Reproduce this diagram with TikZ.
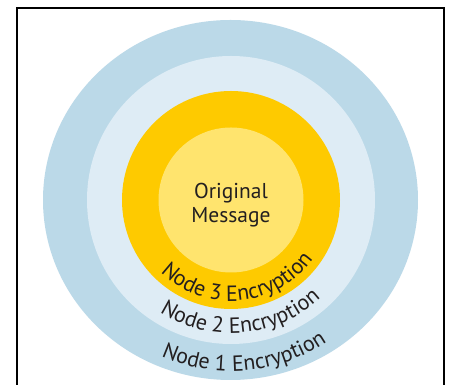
\documentclass[tikz,border=0pt]{standalone}
\usepackage{fontspec}
\setmainfont{PT Sans}
\usetikzlibrary{decorations.text}
\definecolor{ringouter}{RGB}{187,217,232}
\definecolor{ringmid}{RGB}{222,236,245}
\definecolor{ringorange}{RGB}{254,202,0}
\definecolor{coreyellow}{RGB}{255,228,110}
\definecolor{ink}{RGB}{35,31,32}
\newcommand{\corefont}{\fontsize{21.5}{24}\selectfont}
\newcommand{\ringfont}{\fontsize{22}{24}\selectfont\color{ink}}
\tikzset{
  coretext/.style={anchor=base, inner sep=0pt, text=ink, font=\corefont},
  ringlabel/.style={decorate, decoration={text along path, text align=center,
      text={|\ringfont|#1}}}
}
\begin{document}
\begin{tikzpicture}[x=1pt,y=1pt]
  \useasboundingbox (0,0) rectangle (451,385);
  \fill[white] (0,0) rectangle (451,385);
  % open frame
  \draw[line width=1.2pt] (17,0) -- (17,377) -- (444,377) -- (444,0);
  \coordinate (c) at (231,185);
  % encryption layers
  \fill[ringouter] (230.5,185) ellipse [x radius=187.5, y radius=180];
  \fill[ringmid] (c) circle [radius=144];
  \fill[ringorange] (c) circle [radius=109];
  \fill[coreyellow] (c) circle [radius=72.5];
  % message
  \node[coretext] (orig) at (231,186) {Original};
  \node[coretext] (mesg) at (231,162) {Message};
  % curved layer labels
  \path[ringlabel={Node 3 Encryption}, shift={(c)}]
    (185:101) arc [start angle=185, end angle=365, radius=101];
  \path[ringlabel={Node 2 Encryption}, shift={(c)}]
    (185:133) arc [start angle=185, end angle=365, radius=133];
  \path[ringlabel={Node 1 Encryption}, shift={(c)}]
    (185:171) arc [start angle=185, end angle=365, radius=171];
\end{tikzpicture}
\end{document}
